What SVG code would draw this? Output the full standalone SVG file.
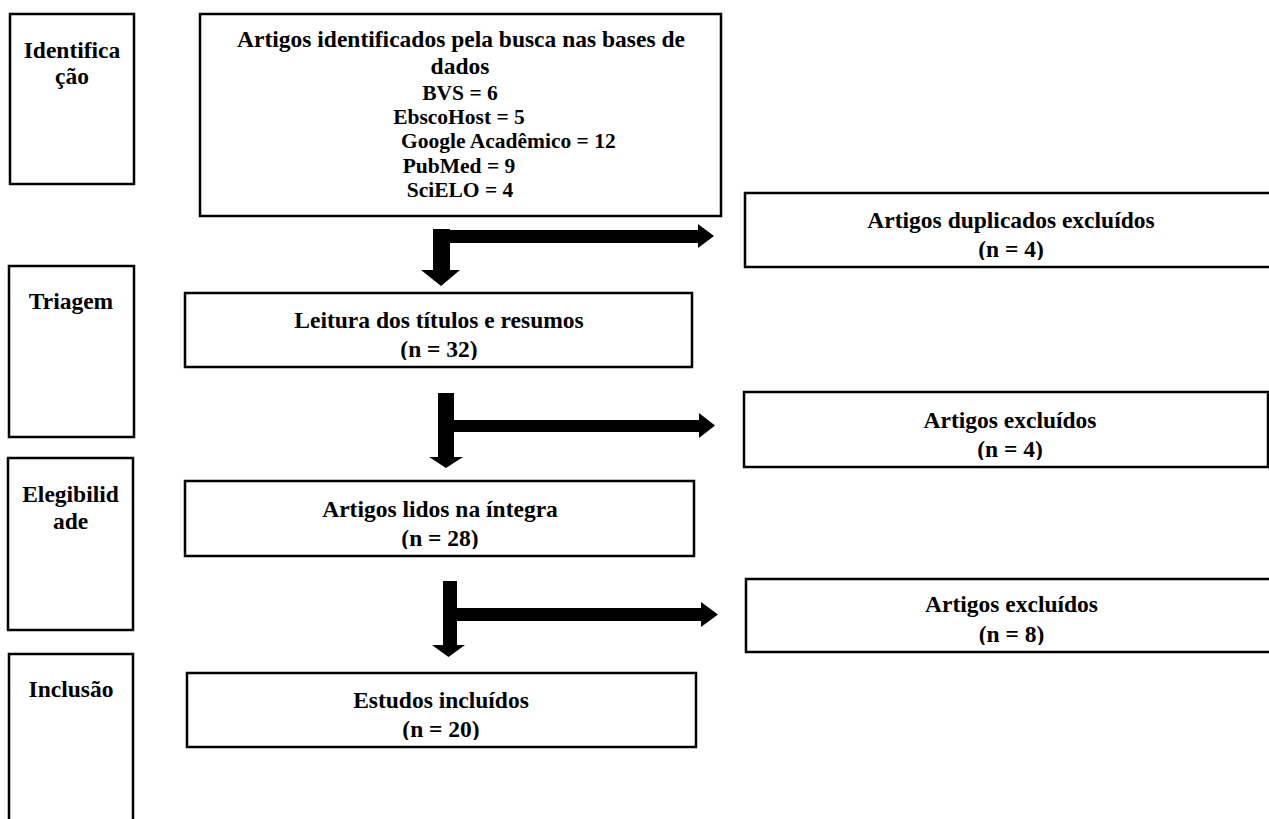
<svg xmlns="http://www.w3.org/2000/svg" width="1269" height="819" viewBox="0 0 1269 819">
<style>
.box{fill:#fff;stroke:#000;stroke-width:2.5}
.t{font-family:"Liberation Serif","Times New Roman",serif;font-weight:bold;font-size:23.5px;fill:#000;text-anchor:middle}
.s{font-size:21.5px}
.arrow{fill:#000;stroke:none}
</style>
<defs>
<clipPath id="c-dup"><rect x="745" y="193" width="533" height="67"/></clipPath>
<clipPath id="c-tri"><rect x="185" y="293" width="507" height="67"/></clipPath>
<clipPath id="c-ex1"><rect x="744" y="392" width="524" height="68"/></clipPath>
<clipPath id="c-int"><rect x="185" y="481" width="509" height="68"/></clipPath>
<clipPath id="c-ex2"><rect x="746" y="579" width="532" height="66"/></clipPath>
<clipPath id="c-inc"><rect x="187" y="673" width="509" height="67"/></clipPath>
</defs>
<rect width="1269" height="819" fill="#fff"/>
<g id="stage-identificacao">
<rect class="box" x="10" y="14" width="124" height="170"/>
<text class="t" x="72" y="58">Identifica</text>
<text class="t" x="72" y="84">ção</text>
</g>
<g id="stage-triagem">
<rect class="box" x="9" y="266" width="125" height="171"/>
<text class="t" x="71" y="309">Triagem</text>
</g>
<g id="stage-elegibilidade">
<rect class="box" x="8" y="458" width="125" height="172"/>
<text class="t" x="70.5" y="502">Elegibilid</text>
<text class="t" x="70.5" y="529">ade</text>
</g>
<g id="stage-inclusao">
<rect class="box" x="9" y="654" width="124" height="180"/>
<text class="t" x="71" y="697">Inclusão</text>
</g>
<g id="node-identificados">
<rect class="box" x="200" y="14" width="521" height="202"/>
<text class="t" x="461" y="47">Artigos identificados pela busca nas bases de</text>
<text class="t" x="460" y="74">dados</text>
<text class="t s" x="460" y="100">BVS = 6</text>
<text class="t s" x="459" y="124">EbscoHost = 5</text>
<text class="t s" x="401" y="148" style="text-anchor:start">Google Acadêmico = 12</text>
<text class="t s" x="459" y="173">PubMed = 9</text>
<text class="t s" x="460" y="197">SciELO = 4</text>
</g>
<g id="node-duplicados">
<rect class="box" x="745" y="193" width="533" height="74"/>
<g clip-path="url(#c-dup)">
<text class="t" x="1011" y="228">Artigos duplicados excluídos</text>
<text class="t" x="1011" y="257">(n = 4)</text>
</g>
</g>
<g id="node-triagem">
<rect class="box" x="185" y="293" width="507" height="74"/>
<g clip-path="url(#c-tri)">
<text class="t" x="439" y="328">Leitura dos títulos e resumos</text>
<text class="t" x="439" y="357">(n = 32)</text>
</g>
</g>
<g id="node-excluidos-1">
<rect class="box" x="744" y="392" width="524" height="75"/>
<g clip-path="url(#c-ex1)">
<text class="t" x="1010" y="428">Artigos excluídos</text>
<text class="t" x="1010" y="457">(n = 4)</text>
</g>
</g>
<g id="node-integra">
<rect class="box" x="185" y="481" width="509" height="75"/>
<g clip-path="url(#c-int)">
<text class="t" x="440" y="517">Artigos lidos na íntegra</text>
<text class="t" x="440" y="546">(n = 28)</text>
</g>
</g>
<g id="node-excluidos-2">
<rect class="box" x="746" y="579" width="532" height="73"/>
<g clip-path="url(#c-ex2)">
<text class="t" x="1011.5" y="612">Artigos excluídos</text>
<text class="t" x="1011.5" y="642">(n = 8)</text>
</g>
</g>
<g id="node-incluidos">
<rect class="box" x="187" y="673" width="509" height="74"/>
<g clip-path="url(#c-inc)">
<text class="t" x="441" y="708">Estudos incluídos</text>
<text class="t" x="441" y="737">(n = 20)</text>
</g>
</g>
<g id="connectors">
<path class="arrow" d="M433,229 H450 V230 H698 V224 L714,236 L698,248 V243 H450 V270 H460 L441,286 L421,270 H433 Z"/>
<path class="arrow" d="M438,393 H454 V420 H699 V413 L715,425.5 L699,438 V432 H454 V457 H463 L446,468 L429,457 H438 Z"/>
<path class="arrow" d="M443,581 H457 V608 H701 V602 L718,614.5 L701,627 V621 H457 V645 H465 L448.5,657 L432,645 H443 Z"/>
</g>
</svg>
